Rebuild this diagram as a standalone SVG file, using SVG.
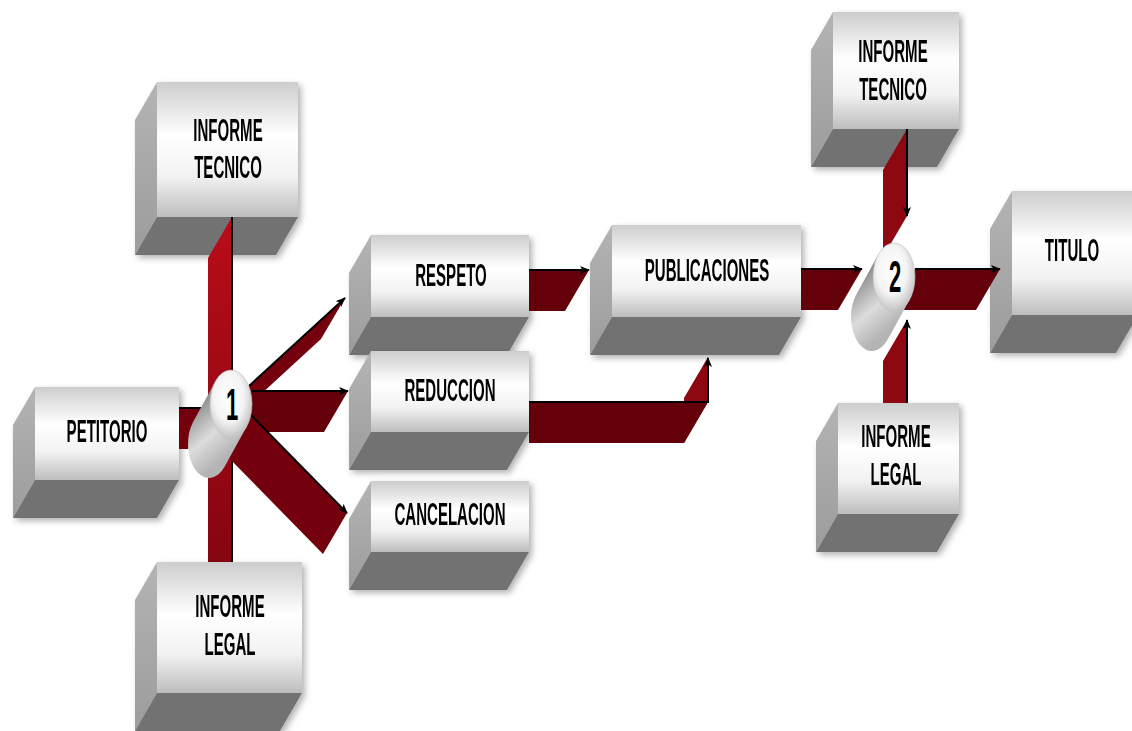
<svg xmlns="http://www.w3.org/2000/svg" width="1132" height="731" viewBox="0 0 1132 731">
<defs>
  <linearGradient id="gFront" x1="0" y1="0" x2="0" y2="1">
    <stop offset="0" stop-color="#cdcdcd"/>
    <stop offset="0.4" stop-color="#ffffff"/>
    <stop offset="0.7" stop-color="#f2f2f2"/>
    <stop offset="1" stop-color="#bdbdbd"/>
  </linearGradient>
  <linearGradient id="gSide" x1="0" y1="0" x2="0" y2="1">
    <stop offset="0" stop-color="#b4b4b4"/>
    <stop offset="1" stop-color="#9c9c9c"/>
  </linearGradient>
  <linearGradient id="gVert" x1="0" y1="0" x2="0" y2="1">
    <stop offset="0" stop-color="#b80d19"/>
    <stop offset="1" stop-color="#850510"/>
  </linearGradient>
  <linearGradient id="gCyl1" gradientUnits="userSpaceOnUse" x1="200" y1="402" x2="238" y2="446">
    <stop offset="0" stop-color="#8e8e8e"/>
    <stop offset="0.55" stop-color="#dcdcdc"/>
    <stop offset="1" stop-color="#b4b4b4"/>
  </linearGradient>
  <linearGradient id="gCyl2" gradientUnits="userSpaceOnUse" x1="863" y1="275" x2="901" y2="319">
    <stop offset="0" stop-color="#8e8e8e"/>
    <stop offset="0.55" stop-color="#dcdcdc"/>
    <stop offset="1" stop-color="#b4b4b4"/>
  </linearGradient>
  <radialGradient id="gCap" cx="0.45" cy="0.4" r="0.6">
    <stop offset="0" stop-color="#ffffff"/>
    <stop offset="0.6" stop-color="#f4f4f4"/>
    <stop offset="1" stop-color="#c4c4c4"/>
  </radialGradient>
  <filter id="shadow" x="-10%" y="-10%" width="125%" height="125%">
    <feDropShadow dx="3" dy="3" stdDeviation="3" flood-color="#000" flood-opacity="0.3"/>
  </filter>
  <marker id="ah" markerUnits="userSpaceOnUse" markerWidth="10" markerHeight="8" refX="9" refY="4" orient="auto">
    <path d="M0,0 L10,4 L0,8 L2.5,4 z" fill="#000"/>
  </marker>
  <style>
    .front{fill:url(#gFront)}
    .side{fill:url(#gSide)}
    .bottom{fill:#727272}
    .box{filter:url(#shadow)}
    .lbl{font-family:"Liberation Sans",Arial,sans-serif;font-weight:bold;font-size:32px;fill:#000;text-anchor:middle}
    .num{font-family:"Liberation Sans",Arial,sans-serif;font-weight:bold;font-size:44px;fill:#000;text-anchor:middle}
    .ln{fill:none;stroke:#000;stroke-width:2}
    .dk{fill:#63000a}
    .md{fill:#74000e}
    .rd{fill:#8e0812}
    .cap{fill:url(#gCap);stroke:#c0c0c0;stroke-width:0.6}
  </style>
</defs>

<g id="node-informe-tecnico-1" class="box">
  <polygon class="side" points="157,82 135,120 135,255 157,217"/>
  <polygon class="bottom" points="157,217 298,217 276,255 135,255"/>
  <rect class="front" x="157" y="82" width="141" height="135"/>
  <text class="lbl" transform="matrix(0.47 0 0 1 228 0)" x="0" y="141">INFORME</text>
  <text class="lbl" transform="matrix(0.47 0 0 1 228 0)" x="0" y="178">TECNICO</text>
</g>
<g id="node-petitorio" class="box">
  <polygon class="side" points="35,387 13,425 13,518 35,480"/>
  <polygon class="bottom" points="35,480 179,480 157,518 13,518"/>
  <rect class="front" x="35" y="387" width="144" height="93"/>
  <text class="lbl" transform="matrix(0.47 0 0 1 107 0)" x="0" y="442">PETITORIO</text>
</g>
<g id="node-informe-legal-1" class="box">
  <polygon class="side" points="157,562 135,600 135,731 157,693"/>
  <polygon class="bottom" points="157,693 302,693 280,731 135,731"/>
  <rect class="front" x="157" y="562" width="145" height="131"/>
  <text class="lbl" transform="matrix(0.47 0 0 1 230 0)" x="0" y="617">INFORME</text>
  <text class="lbl" transform="matrix(0.47 0 0 1 230 0)" x="0" y="655">LEGAL</text>
</g>
<g id="node-respeto" class="box">
  <polygon class="side" points="371,235 349,273 349,355 371,317"/>
  <polygon class="bottom" points="371,317 529,317 507,355 349,355"/>
  <rect class="front" x="371" y="235" width="158" height="82"/>
  <text class="lbl" transform="matrix(0.47 0 0 1 451 0)" x="0" y="286">RESPETO</text>
</g>
<g id="node-reduccion" class="box">
  <polygon class="side" points="371,351 349,389 349,470 371,432"/>
  <polygon class="bottom" points="371,432 529,432 507,470 349,470"/>
  <rect class="front" x="371" y="351" width="158" height="81"/>
  <text class="lbl" transform="matrix(0.47 0 0 1 450 0)" x="0" y="401">REDUCCION</text>
</g>
<g id="node-cancelacion" class="box">
  <polygon class="side" points="371,481 349,519 349,590 371,552"/>
  <polygon class="bottom" points="371,552 529,552 507,590 349,590"/>
  <rect class="front" x="371" y="481" width="158" height="71"/>
  <text class="lbl" transform="matrix(0.47 0 0 1 450 0)" x="0" y="525">CANCELACION</text>
</g>
<g id="node-publicaciones" class="box">
  <polygon class="side" points="612,225 590,263 590,355 612,317"/>
  <polygon class="bottom" points="612,317 801,317 779,355 590,355"/>
  <rect class="front" x="612" y="225" width="189" height="92"/>
  <text class="lbl" transform="matrix(0.47 0 0 1 707 0)" x="0" y="281">PUBLICACIONES</text>
</g>
<g id="node-informe-tecnico-2" class="box">
  <polygon class="side" points="833,12 811,50 811,167 833,129"/>
  <polygon class="bottom" points="833,129 959,129 937,167 811,167"/>
  <rect class="front" x="833" y="12" width="126" height="117"/>
  <text class="lbl" transform="matrix(0.47 0 0 1 893 0)" x="0" y="62">INFORME</text>
  <text class="lbl" transform="matrix(0.47 0 0 1 893 0)" x="0" y="100">TECNICO</text>
</g>
<g id="node-titulo" class="box">
  <polygon class="side" points="1012,191 990,229 990,353 1012,315"/>
  <polygon class="bottom" points="1012,315 1138,315 1116,353 990,353"/>
  <rect class="front" x="1012" y="191" width="126" height="124"/>
  <text class="lbl" transform="matrix(0.47 0 0 1 1072 0)" x="0" y="261">TITULO</text>
</g>
<g id="node-informe-legal-2" class="box">
  <polygon class="side" points="838,403 816,441 816,552 838,514"/>
  <polygon class="bottom" points="838,514 959,514 937,552 816,552"/>
  <rect class="front" x="838" y="403" width="121" height="111"/>
  <text class="lbl" transform="matrix(0.47 0 0 1 896 0)" x="0" y="447">INFORME</text>
  <text class="lbl" transform="matrix(0.47 0 0 1 896 0)" x="0" y="485">LEGAL</text>
</g>

<g id="connectors">
  <polygon fill="url(#gVert)" points="232,217 232,562 208,562 208,258"/>
  <line class="ln" x1="232" y1="217" x2="232" y2="562"/>
  <polygon class="md" points="179,408 212,408 188,449 179,449"/>
  <line class="ln" x1="179" y1="408" x2="212" y2="408"/>
  <polygon class="md" points="249,386 345,298 321,339 225,427"/>
  <line class="ln" x1="249" y1="386" x2="345" y2="298" marker-end="url(#ah)"/>
  <polygon class="dk" points="252,391 348,391 324,432 228,432"/>
  <line class="ln" x1="252" y1="391" x2="348" y2="391" marker-end="url(#ah)"/>
  <polygon class="md" points="250,414 347,513 323,554 226,455"/>
  <line class="ln" x1="250" y1="414" x2="347" y2="513" marker-end="url(#ah)"/>
  <polygon class="dk" points="529,270 589,270 565,311 529,311"/>
  <line class="ln" x1="529" y1="270" x2="589" y2="270" marker-end="url(#ah)"/>
  <polygon class="rd" points="708,357 708,402 684,443 684,398"/>
  <polygon class="dk" points="529,402 708,402 684,443 529,443"/>
  <polyline class="ln" points="529,402 708,402 708,358" marker-end="url(#ah)"/>
  <polygon class="dk" points="801,269 862,269 838,310 801,310"/>
  <line class="ln" x1="801" y1="269" x2="862" y2="269" marker-end="url(#ah)"/>
  <polygon class="dk" points="915,269 1000,269 976,310 891,310"/>
  <line class="ln" x1="915" y1="269" x2="1000" y2="269" marker-end="url(#ah)"/>
  <polygon class="rd" points="907,129 907,216 883,257 883,170"/>
  <line class="ln" x1="907" y1="129" x2="907" y2="216" marker-end="url(#ah)"/>
  <polygon class="rd" points="907,320 907,403 883,403 883,361"/>
  <line class="ln" x1="907" y1="403" x2="907" y2="320" marker-end="url(#ah)"/>
</g>

<g id="node-1">
  <path fill="url(#gCyl1)" d="M215.3,381.4 L193.3,421.4 A21,34 0 0 0 224.7,466.6 L246.7,426.6 Z"/>
  <ellipse class="cap" cx="231" cy="404" rx="21" ry="34"/>
  <text class="num" transform="matrix(0.5 0 0 1 232 0)" x="0" y="420">1</text>
</g>
<g id="node-2">
  <path fill="url(#gCyl2)" d="M878.3,254.4 L856.3,294.4 A21,34 0 0 0 887.7,339.6 L909.7,299.6 Z"/>
  <ellipse class="cap" cx="894" cy="277" rx="21" ry="34"/>
  <text class="num" transform="matrix(0.5 0 0 1 895 0)" x="0" y="292">2</text>
</g>
</svg>
